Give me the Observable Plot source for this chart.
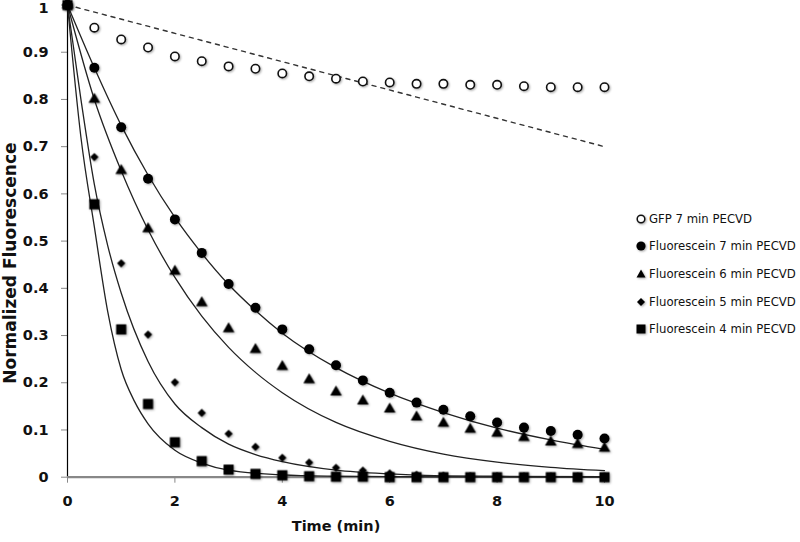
<!DOCTYPE html>
<html><head><meta charset="utf-8">
<script src="https://cdn.jsdelivr.net/npm/d3@7"></script>
<script src="https://cdn.jsdelivr.net/npm/@observablehq/plot@0.6"></script>
<style>
body{margin:0;background:#fff;}
#wrap{position:relative;width:800px;height:542px;font-family:"DejaVu Sans",sans-serif;}
#wrap svg g[aria-label="dot"]{filter:drop-shadow(1px 1.5px 1px rgba(0,0,0,0.35));}
.legend{position:absolute;left:634px;top:205px;font-size:11.7px;color:#111;}
.legend .row{display:flex;align-items:center;height:27.6px;white-space:nowrap;}
.legend svg{filter:drop-shadow(1px 1.5px 1px rgba(0,0,0,0.35));margin-right:1px;}
</style></head><body><div id="wrap"></div>
<script>
// measured data (time in min)
const times = [0,0.5,1,1.5,2,2.5,3,3.5,4,4.5,5,5.5,6,6.5,7,7.5,8,8.5,9,9.5,10];
const gfp7   = [1,0.952,0.927,0.910,0.891,0.881,0.870,0.865,0.855,0.849,0.844,0.838,0.836,0.833,0.833,0.831,0.831,0.828,0.826,0.826,0.826];
const fluo7  = [1,0.867,0.741,0.632,0.546,0.475,0.409,0.359,0.313,0.271,0.237,0.205,0.179,0.158,0.143,0.129,0.116,0.105,0.098,0.090,0.082];
const fluo6  = [1,0.800,0.649,0.526,0.436,0.369,0.314,0.270,0.234,0.206,0.180,0.161,0.144,0.127,0.114,0.101,0.093,0.084,0.074,0.069,0.061];
const fluo5  = [1,0.678,0.453,0.302,0.201,0.136,0.092,0.064,0.041,0.031,0.020,0.014,0.008,0.005,0.003,0.002,0.002,0.001,0.001,0.001,0.001];
const fluo4  = [1,0.578,0.313,0.155,0.074,0.034,0.016,0.007,0.004,0.002,0.001,0.001,0,0,0,0,0,0,0,0,0];

// fitted curves
const fitTimesAB = [0,0.5,1,1.5,2,2.5,3,3.5,4,5,6,7,8,9,10];
const fit7 = [1,0.867,0.745,0.640,0.550,0.474,0.408,0.353,0.305,0.232,0.178,0.137,0.104,0.079,0.059];
const fit6 = [1,0.800,0.649,0.524,0.423,0.341,0.275,0.222,0.179,0.116,0.076,0.049,0.032,0.021,0.014];
const fitTimes5 = [0,0.25,0.5,0.75,1,1.5,2,2.5,3,3.5,4,5,6,7,8,10];
const fit5 = [1,0.80,0.62,0.49,0.39,0.245,0.155,0.105,0.07,0.048,0.033,0.015,0.007,0.003,0.002,0.001];
const fitTimes4 = [0,0.25,0.5,0.75,1,1.25,1.5,2,2.5,3,4,5,6,10];
const fit4 = [1,0.72,0.53,0.35,0.228,0.16,0.113,0.057,0.03,0.015,0.005,0.002,0.001,0];

// GFP dashed trend
const trendTimes = [0,10];
const trendGfp = [1,0.70];

// axes
const xTicks = [0,2,4,6,8,10];
const yTicks = [0,0.1,0.2,0.3,0.4,0.5,0.6,0.7,0.8,0.9,1];
const yTickLabels = ["0","0.1","0.2","0.3","0.4","0.5","0.6","0.7","0.8","0.9","1"];
const seriesNames = ["GFP 7 min PECVD","Fluorescein 7 min PECVD","Fluorescein 6 min PECVD","Fluorescein 5 min PECVD","Fluorescein 4 min PECVD"];

const pts = (ts, vs) => ts.map((t,i) => ({t, v: vs[i]}));
const lowTicks = yTicks.filter(d => d < 1);
const topTick = yTicks.filter(d => d === 1);

const chart = Plot.plot({
  width: 800, height: 542,
  marginLeft: 67, marginRight: 196, marginTop: 4.5, marginBottom: 65.3,
  style: {fontFamily: "'DejaVu Sans', sans-serif", fontSize: "14.5px", fontWeight: "bold", color: "#111", background: "#fff"},
  x: {domain: [0,10]},
  y: {domain: [0,1]},
  marks: [
    Plot.axisY(lowTicks, {tickSize: 6, tickPadding: 13, stroke: "#888", fill: "#111", label: null,
      tickFormat: d => yTickLabels[yTicks.indexOf(d)]}),
    Plot.axisY(topTick, {tickSize: 6, tickPadding: 13, stroke: "#888", fill: "#111", label: null,
      tickFormat: () => ""}),
    Plot.axisY(topTick, {tickSize: 0, tickPadding: 19, dy: 3, fill: "#111", label: null,
      tickFormat: d => yTickLabels[yTicks.indexOf(d)]}),
    Plot.axisX(xTicks, {tickSize: 6, tickPadding: 13, stroke: "#888", fill: "#111", label: null,
      tickFormat: d => String(d)}),
    Plot.ruleX([0], {y1: 0, y2: 1, stroke: "#000", strokeWidth: 1.2}),
    Plot.ruleY([0], {stroke: "#888", strokeWidth: 2.2}),
    Plot.line(pts(trendTimes, trendGfp), {x: "t", y: "v", stroke: "#333", strokeWidth: 1.4, strokeDasharray: "4,5"}),
    Plot.line(pts(fitTimesAB, fit7), {x: "t", y: "v", stroke: "#222", strokeWidth: 1.3, curve: "monotone-x"}),
    Plot.line(pts(fitTimesAB, fit6), {x: "t", y: "v", stroke: "#222", strokeWidth: 1.3, curve: "monotone-x"}),
    Plot.line(pts(fitTimes5, fit5), {x: "t", y: "v", stroke: "#222", strokeWidth: 1.3, curve: "monotone-x"}),
    Plot.line(pts(fitTimes4, fit4), {x: "t", y: "v", stroke: "#222", strokeWidth: 1.3, curve: "monotone-x"}),
    Plot.dot(pts(times, gfp7), {x: "t", y: "v", r: 4.2, fill: "#fff", stroke: "#111", strokeWidth: 1.6}),
    Plot.dot(pts(times, fluo7), {x: "t", y: "v", r: 5, fill: "#000"}),
    Plot.dot(pts(times, fluo6), {x: "t", y: "v", r: 4.3, symbol: "triangle", fill: "#000"}),
    Plot.dot(pts(times, fluo5), {x: "t", y: "v", r: 3.7, symbol: "diamond2", fill: "#000"}),
    Plot.dot(pts(times, fluo4), {x: "t", y: "v", r: 5.7, symbol: "square", fill: "#000"}),
    Plot.text(["Time (min)"], {frameAnchor: "bottom", dy: 54, fontSize: 14.5, fontWeight: "bold", fill: "#111"}),
    Plot.text(["Normalized Fluorescence"], {frameAnchor: "left", textAnchor: "middle", dx: -57, dy: 22, rotate: -90, fontSize: 17, fontWeight: "bold", fill: "#111"})
  ]
});
const wrap = document.getElementById("wrap");
wrap.appendChild(chart);

// legend
const symbols = [
  '<circle cx="7" cy="7" r="3.8" fill="#fff" stroke="#111" stroke-width="1.5"/>',
  '<circle cx="7" cy="7" r="4.6" fill="#000"/>',
  '<path d="M7 2.5 L11.5 10.5 L2.5 10.5 Z" fill="#000"/>',
  '<path d="M7 3 L11 7 L7 11 L3 7 Z" fill="#000"/>',
  '<rect x="2.5" y="2.5" width="9" height="9" fill="#000"/>'
];
const leg = document.createElement("div");
leg.className = "legend";
seriesNames.forEach((name, i) => {
  const row = document.createElement("div");
  row.className = "row";
  row.innerHTML = `<svg width="14" height="14">${symbols[i]}</svg><span>${name}</span>`;
  leg.appendChild(row);
});
wrap.appendChild(leg);
</script>
</body></html>
